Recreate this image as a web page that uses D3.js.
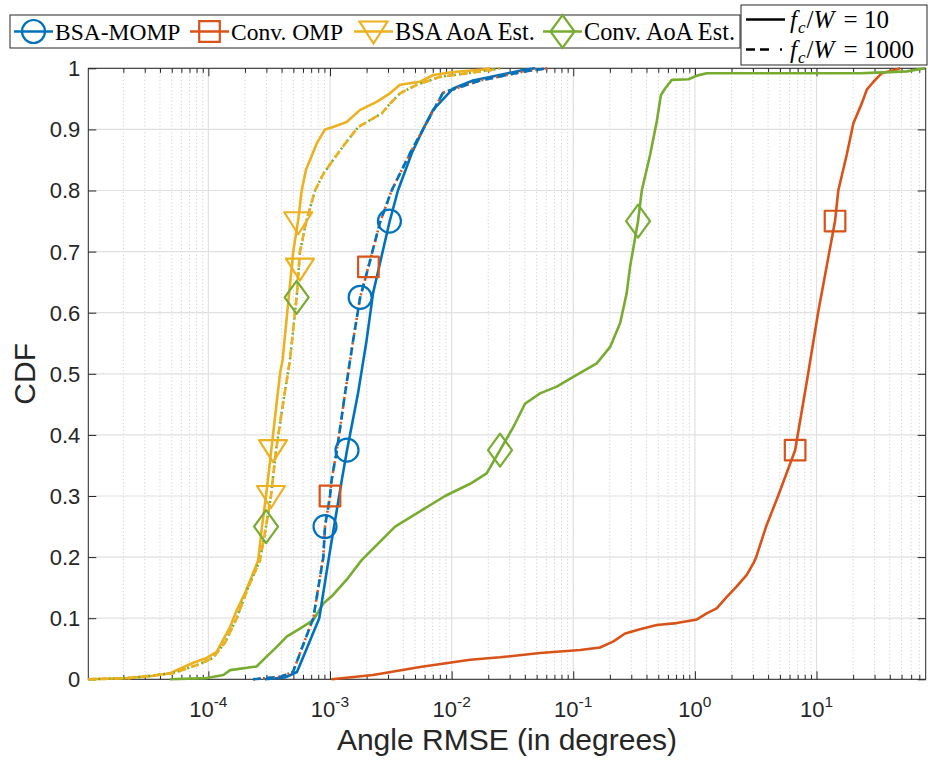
<!DOCTYPE html>
<html><head><meta charset="utf-8">
<script src="https://cdn.jsdelivr.net/npm/d3@7"></script>
<style>body{margin:0;background:#fff}</style>
</head><body>
<svg id="chart" width="928" height="760"></svg>
<script>
// ---------------- data ----------------
const xTickValues = [1e-4, 1e-3, 1e-2, 1e-1, 1e0, 1e1];
const xTickExponents = ["-4", "-3", "-2", "-1", "0", "1"];
const yTickValues = [0, 0.1, 0.2, 0.3, 0.4, 0.5, 0.6, 0.7, 0.8, 0.9, 1];
const yTickLabels = ["0", "0.1", "0.2", "0.3", "0.4", "0.5", "0.6", "0.7", "0.8", "0.9", "1"];
const xDomain = [1.03e-5, 79];
const seriesNames = ["BSA-MOMP", "Conv. OMP", "BSA AoA Est.", "Conv. AoA Est."];
const ratioValues = ["10", "1000"];

// [angle RMSE (deg), CDF]
const bsaMompSolid = [[2.92e-4,0],[4.26e-4,0.003],[5.35e-4,0.012],[6.43e-4,0.05],[7.24e-4,0.075],[8.16e-4,0.1],[9.81e-4,0.2],[1.08e-3,0.25],[1.25e-3,0.326],[1.38e-3,0.375],[1.70e-3,0.468],[2.00e-3,0.555],[2.26e-3,0.632],[3.08e-3,0.748],[3.62e-3,0.8],[4.70e-3,0.861],[5.82e-3,0.9],[7.04e-3,0.932],[1.03e-2,0.967],[1.50e-2,0.98],[3.87e-2,0.997],[4.85e-2,1.0]];
const bsaMompDashed = [[2.33e-4,0],[3.88e-4,0.004],[4.96e-4,0.012],[5.85e-4,0.05],[7.29e-4,0.1],[8.81e-4,0.2],[9.10e-4,0.25],[1.0e-3,0.3],[1.03e-3,0.326],[1.14e-3,0.375],[1.33e-3,0.468],[1.55e-3,0.555],[1.77e-3,0.625],[2.07e-3,0.675],[2.58e-3,0.748],[3.21e-3,0.8],[4.55e-3,0.861],[5.82e-3,0.9],[8.50e-3,0.96],[1.71e-2,0.98],[4.0e-2,0.995],[6.2e-2,1.0]];
const convOmpSolid = [[1.03e-3,0],[2.26e-3,0.007],[5.50e-3,0.02],[1.42e-2,0.032],[2.50e-2,0.036],[5.33e-2,0.043],[0.114,0.048],[0.166,0.052],[0.214,0.062],[0.267,0.075],[0.354,0.082],[0.486,0.089],[0.710,0.092],[1.04,0.098],[1.25,0.108],[1.51,0.116],[1.83,0.135],[2.21,0.152],[2.67,0.171],[3.03,0.19],[3.19,0.2],[3.85,0.25],[4.83,0.3],[6.67,0.375],[8.53,0.5],[10.3,0.6],[14.2,0.75],[15.1,0.8],[17.7,0.858],[20.1,0.91],[23.6,0.943],[25.9,0.965],[29.4,0.978],[34.4,0.992],[42.9,0.997],[48.7,1.0]];
const convOmpDashed = [[2.33e-4,0],[3.88e-4,0.004],[4.96e-4,0.012],[5.85e-4,0.05],[7.29e-4,0.1],[8.81e-4,0.2],[9.10e-4,0.25],[1.0e-3,0.3],[1.03e-3,0.326],[1.14e-3,0.375],[1.33e-3,0.468],[1.55e-3,0.555],[1.77e-3,0.625],[2.07e-3,0.675],[2.58e-3,0.748],[3.21e-3,0.8],[4.55e-3,0.861],[5.82e-3,0.9],[8.50e-3,0.96],[1.71e-2,0.98],[4.0e-2,0.995],[6.2e-2,1.0]];
const bsaAoaSolid = [[1.03e-5,0],[2.13e-5,0.002],[3.31e-5,0.005],[4.83e-5,0.01],[7.51e-5,0.027],[9.69e-5,0.035],[1.17e-4,0.045],[1.32e-4,0.064],[1.51e-4,0.086],[1.71e-4,0.113],[2.00e-4,0.141],[2.27e-4,0.168],[2.57e-4,0.195],[2.76e-4,0.25],[2.98e-4,0.3],[3.40e-4,0.4],[3.88e-4,0.5],[4.08e-4,0.523],[4.45e-4,0.6],[4.99e-4,0.7],[5.48e-4,0.752],[5.85e-4,0.8],[6.35e-4,0.834],[6.85e-4,0.85],[7.78e-4,0.877],[9.10e-4,0.9],[1.06e-3,0.904],[1.37e-3,0.912],[1.77e-3,0.932],[2.42e-3,0.945],[3.11e-3,0.959],[3.76e-3,0.973],[5.50e-3,0.978],[7.08e-3,0.989],[1.03e-2,0.994],[1.81e-2,0.998],[2.07e-2,1.0]];
const bsaAoaDashed = [[1.03e-5,0],[2.27e-5,0.002],[5.12e-5,0.01],[8.53e-5,0.025],[1.09e-4,0.035],[1.37e-4,0.06],[1.71e-4,0.1],[2.12e-4,0.15],[2.66e-4,0.195],[2.98e-4,0.25],[3.27e-4,0.3],[3.60e-4,0.375],[4.10e-4,0.45],[4.69e-4,0.523],[5.15e-4,0.6],[5.32e-4,0.625],[5.66e-4,0.7],[6.43e-4,0.752],[7.53e-4,0.8],[8.81e-4,0.827],[1.06e-3,0.85],[1.37e-3,0.88],[1.71e-3,0.904],[2.66e-3,0.926],[3.11e-3,0.942],[3.76e-3,0.959],[5.16e-3,0.973],[8.04e-3,0.986],[2.07e-2,0.997],[2.50e-2,1.0]];
const convAoaSolid = [[4.83e-5,0],[9.69e-5,0.002],[1.33e-4,0.007],[1.51e-4,0.015],[2.49e-4,0.021],[3.01e-4,0.037],[3.65e-4,0.053],[4.40e-4,0.07],[5.66e-4,0.083],[7.29e-4,0.097],[8.81e-4,0.124],[1.06e-3,0.138],[1.37e-3,0.163],[1.82e-3,0.195],[3.43e-3,0.25],[8.83e-3,0.3],[1.42e-2,0.32],[1.94e-2,0.337],[2.50e-2,0.375],[3.22e-2,0.413],[4.01e-2,0.451],[5.33e-2,0.468],[7.31e-2,0.479],[0.100,0.495],[0.156,0.517],[0.201,0.544],[0.243,0.583],[0.275,0.632],[0.293,0.675],[0.341,0.75],[0.366,0.8],[0.428,0.858],[0.486,0.913],[0.525,0.956],[0.569,0.967],[0.646,0.981],[0.885,0.982],[1.04,0.988],[1.25,0.992],[22.9,0.992],[31.3,0.993],[55.3,0.995],[78.2,1.0]];
const convAoaDashed = [[1.03e-5,0],[2.27e-5,0.002],[5.12e-5,0.01],[8.53e-5,0.025],[1.09e-4,0.035],[1.37e-4,0.06],[1.71e-4,0.1],[2.12e-4,0.15],[2.66e-4,0.195],[2.98e-4,0.25],[3.27e-4,0.3],[3.60e-4,0.375],[4.10e-4,0.45],[4.69e-4,0.523],[5.15e-4,0.6],[5.32e-4,0.625],[5.66e-4,0.7],[6.43e-4,0.752],[7.53e-4,0.8],[8.81e-4,0.827],[1.06e-3,0.85],[1.37e-3,0.88],[1.71e-3,0.904],[2.66e-3,0.926],[3.11e-3,0.942],[3.76e-3,0.959],[5.16e-3,0.973],[8.04e-3,0.986],[2.07e-2,0.997],[2.50e-2,1.0]];

// marker positions
const bsaMompMarkers = [[9.10e-4,0.25],[1.38e-3,0.375],[1.77e-3,0.625],[3.08e-3,0.75]];
const convOmpMarkers = [[1.0e-3,0.3],[2.07e-3,0.675],[6.67,0.375],[14.2,0.75]];
const bsaAoaMarkers = [[3.27e-4,0.3],[3.40e-4,0.375],[5.66e-4,0.672],[5.48e-4,0.748]];
const convAoaMarkers = [[2.98e-4,0.25],[5.32e-4,0.625],[2.50e-2,0.375],[0.341,0.75]];

// ---------------- styles ----------------
const colors = ["#0072BD", "#D95319", "#EDB120", "#77AC30"];
const markerTypes = ["circle", "square", "triangle", "diamond"];
const LW = 2.6;

const svg = d3.select("#chart");
const W = 928, H = 760;
const margin = {left: 88.3, right: 2.3, top: 68.3, bottom: 80.7};
const x = d3.scaleLog().domain(xDomain).range([margin.left, W - margin.right]);
const y = d3.scaleLinear().domain([0, 1]).range([H - margin.bottom, margin.top]);
const x0 = x.range()[0], x1 = x.range()[1], y0 = y.range()[0], y1 = y.range()[1];

// grid
const minorX = x.ticks().filter(v => Math.abs(Math.log10(v) - Math.round(Math.log10(v))) > 1e-6);
const grid = svg.append("g");
grid.selectAll(".mg").data(minorX).join("line")
  .attr("x1", d => x(d)).attr("x2", d => x(d)).attr("y1", y0).attr("y2", y1)
  .attr("stroke", "#c8c8c8").attr("stroke-width", 1).attr("stroke-dasharray", "1,2.5");
grid.selectAll(".gx").data(xTickValues).join("line")
  .attr("x1", d => x(d)).attr("x2", d => x(d)).attr("y1", y0).attr("y2", y1)
  .attr("stroke", "#e0e0e0").attr("stroke-width", 1.2);
grid.selectAll(".gy").data(yTickValues).join("line")
  .attr("x1", x0).attr("x2", x1).attr("y1", d => y(d)).attr("y2", d => y(d))
  .attr("stroke", "#e0e0e0").attr("stroke-width", 1.2);

// axes (ticks inward)
const axisColor = "#262626";
function styleAxis(g) {
  g.select(".domain").remove();
  g.selectAll(".tick line").attr("stroke", axisColor).attr("stroke-width", 1);
  g.selectAll(".tick text").remove();
}
svg.append("g").attr("transform", `translate(0,${y0})`)
  .call(d3.axisBottom(x).tickValues(xTickValues).tickSize(-8)).call(styleAxis);
svg.append("g").attr("transform", `translate(0,${y0})`)
  .call(d3.axisBottom(x).tickValues(minorX).tickSize(-4.5)).call(styleAxis);
svg.append("g").attr("transform", `translate(0,${y1})`)
  .call(d3.axisTop(x).tickValues(xTickValues).tickSize(-8)).call(styleAxis);
svg.append("g").attr("transform", `translate(0,${y1})`)
  .call(d3.axisTop(x).tickValues(minorX).tickSize(-4.5)).call(styleAxis);
svg.append("g").attr("transform", `translate(${x0},0)`)
  .call(d3.axisLeft(y).tickValues(yTickValues).tickSize(-8)).call(styleAxis);
svg.append("g").attr("transform", `translate(${x1},0)`)
  .call(d3.axisRight(y).tickValues(yTickValues).tickSize(-8)).call(styleAxis);
svg.append("rect").attr("x", x0).attr("y", y1).attr("width", x1 - x0).attr("height", y0 - y1)
  .attr("fill", "none").attr("stroke", axisColor).attr("stroke-width", 1);

// tick labels
const tickFont = "'Liberation Sans', Arial, Helvetica, sans-serif";
svg.append("g").selectAll("text").data(yTickValues).join("text")
  .attr("x", x0 - 8).attr("y", d => y(d)).attr("dy", "0.36em")
  .attr("text-anchor", "end").attr("font-family", tickFont).attr("font-size", 22)
  .attr("fill", axisColor).text((d, i) => yTickLabels[i]);
const xl = svg.append("g").selectAll("text").data(xTickValues).join("text")
  .attr("x", d => x(d)).attr("y", y0 + 38).attr("text-anchor", "middle")
  .attr("font-family", tickFont).attr("font-size", 22).attr("fill", axisColor);
xl.append("tspan").text("10");
xl.append("tspan").attr("dy", -10.5).attr("font-size", 15.5).text((d, i) => xTickExponents[i]);

// axis labels
svg.append("text").attr("x", (x0 + x1) / 2).attr("y", 750).attr("text-anchor", "middle")
  .attr("font-family", tickFont).attr("font-size", 30).attr("fill", axisColor)
  .text("Angle RMSE (in degrees)");
svg.append("text").attr("transform", `translate(35,${(y0 + y1) / 2}) rotate(-90)`)
  .attr("text-anchor", "middle").attr("font-family", tickFont).attr("font-size", 30)
  .attr("fill", axisColor).text("CDF");

// curves
const line = d3.line().x(d => x(d[0])).y(d => y(d[1]));
const plot = svg.append("g").attr("fill", "none").attr("stroke-linejoin", "round");
function drawCurve(data, color, dash) {
  const p = plot.append("path").attr("d", line(data)).attr("stroke", color).attr("stroke-width", LW);
  if (dash) p.attr("stroke-dasharray", dash);
}
drawCurve(convOmpSolid, colors[1]);
drawCurve(convAoaSolid, colors[3]);
drawCurve(bsaMompSolid, colors[0]);
drawCurve(bsaAoaSolid, colors[2]);
drawCurve(convOmpDashed, colors[1], "2,3");
drawCurve(bsaMompDashed, colors[0], "8,5");
drawCurve(convAoaDashed, colors[3], "2,3");
drawCurve(bsaAoaDashed, colors[2], "8,5");

// markers
function markerPath(type) {
  if (type === "circle") return "M-11.5,0A11.5,11.5 0 1,0 11.5,0A11.5,11.5 0 1,0 -11.5,0Z";
  if (type === "square") return "M-10.3,-10.3H10.3V10.3H-10.3Z";
  if (type === "triangle") return "M-14,-10H14L0,12Z";
  return "M0,-16.5L12,0L0,16.5L-12,0Z";
}
const markerSets = [bsaMompMarkers, convOmpMarkers, bsaAoaMarkers, convAoaMarkers];
markerSets.forEach((set, i) => {
  plot.selectAll(null).data(set).join("path")
    .attr("transform", d => `translate(${x(d[0])},${y(d[1])})`)
    .attr("d", markerPath(markerTypes[i]))
    .attr("fill", "none").attr("stroke", colors[i]).attr("stroke-width", 2.2);
});

// legend 1
const legFont = "'Liberation Serif', 'Times New Roman', Times, serif";
const leg1 = svg.append("g");
leg1.append("rect").attr("x", 10).attr("y", 15).attr("width", 730).attr("height", 33)
  .attr("fill", "#fff").attr("stroke", axisColor).attr("stroke-width", 1);
const legItemX = [14, 190, 354, 543];
const legFontSize = [23.5, 23.5, 24.3, 24.3];
seriesNames.forEach((name, i) => {
  const g = leg1.append("g").attr("transform", `translate(${legItemX[i]},31.5)`);
  g.append("line").attr("x1", 0).attr("x2", 39).attr("stroke", colors[i]).attr("stroke-width", LW);
  g.append("path").attr("transform", "translate(19.5,0)").attr("d", markerPath(markerTypes[i]))
    .attr("fill", "none").attr("stroke", colors[i]).attr("stroke-width", 2.2);
  g.append("text").attr("x", 41).attr("y", 8).attr("font-family", legFont).attr("font-size", legFontSize[i])
    .attr("fill", "#000").text(name);
});

// legend 2
const leg2 = svg.append("g");
leg2.append("rect").attr("x", 741).attr("y", 5).attr("width", 186).attr("height", 60)
  .attr("fill", "#fff").attr("stroke", axisColor).attr("stroke-width", 1);
const ratioDash = [null, "9,5,9,11,2"];
const ratioY = [19.5, 49.5];
ratioValues.forEach((v, i) => {
  const l = leg2.append("line").attr("x1", 746).attr("x2", 785).attr("y1", ratioY[i]).attr("y2", ratioY[i])
    .attr("stroke", "#000").attr("stroke-width", 2.4);
  if (ratioDash[i]) l.attr("stroke-dasharray", ratioDash[i]);
  const t = leg2.append("text").attr("x", 790).attr("y", ratioY[i] + 8)
    .attr("font-family", legFont).attr("font-size", 25).attr("fill", "#000");
  t.append("tspan").attr("font-style", "italic").text("f");
  t.append("tspan").attr("font-style", "italic").attr("font-size", 17).attr("dx", 1).attr("dy", 5).text("c");
  t.append("tspan").attr("dy", -5).attr("dx", 1).text("/");
  t.append("tspan").attr("font-style", "italic").text("W");
  t.append("tspan").attr("dx", 3).text(" = " + v);
});
</script>
</body></html>
